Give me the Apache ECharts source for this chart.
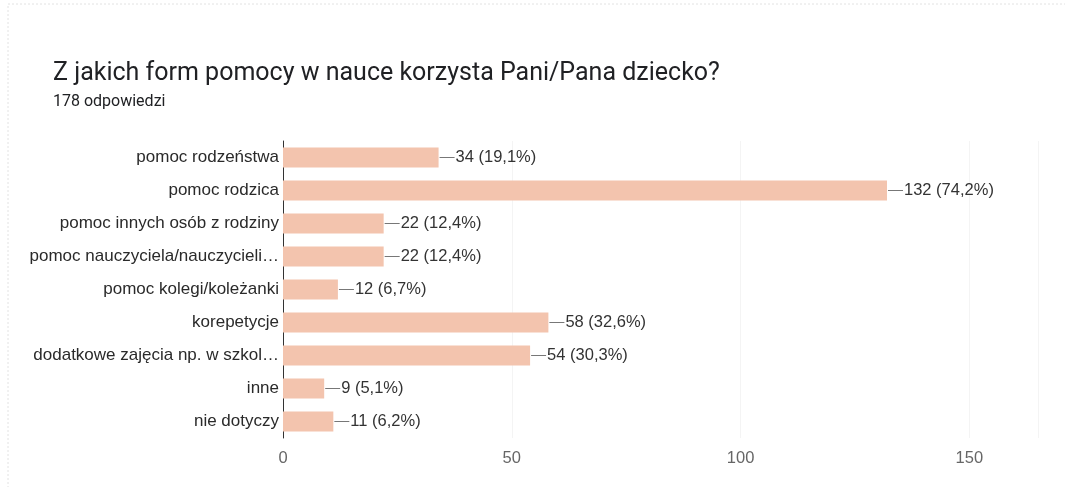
<!DOCTYPE html>
<html>
<head>
<meta charset="utf-8">
<script src="https://cdn.jsdelivr.net/npm/echarts@6/dist/echarts.min.js"></script>
<style>
  html, body { margin: 0; padding: 0; background: #fff; }
  #chart { width: 1065px; height: 487px; }
</style>
</head>
<body>
<div id="chart"></div>
<script>
// data
const categories = [
  'pomoc rodzeństwa',
  'pomoc rodzica',
  'pomoc innych osób z rodziny',
  'pomoc nauczyciela/nauczycieli…',
  'pomoc kolegi/koleżanki',
  'korepetycje',
  'dodatkowe zajęcia np. w szkol…',
  'inne',
  'nie dotyczy'
]
const counts = [34, 132, 22, 22, 12, 58, 54, 9, 11]
const percents = ['19,1%', '74,2%', '12,4%', '12,4%', '6,7%', '32,6%', '30,3%', '5,1%', '6,2%']
const xTicks = [0, 50, 100, 150]

const chart = echarts.init(document.getElementById('chart'))

const option = {
  backgroundColor: '#fff',
  animation: false,
  title: {
    text: 'Z jakich form pomocy w nauce korzysta Pani/Pana dziecko?',
    subtext: '178 odpowiedzi',
    left: 48,
    top: 56,
    itemGap: 8,
    textStyle: { fontFamily: 'Roboto', fontSize: 25, fontWeight: 'normal', color: '#202124' },
    subtextStyle: { fontFamily: 'Roboto', fontSize: 16, color: '#202124' }
  },
  graphic: [
    {
      type: 'rect',
      shape: { x: 8, y: 4, width: 1100, height: 520 },
      style: { fill: 'none', stroke: '#e2e2e2', lineWidth: 1, lineDash: [2, 2] },
      silent: true
    }
  ],
  grid: {
    left: 283,
    right: 27,
    top: 141,
    bottom: 49
  },
  xAxis: {
    type: 'value',
    min: 0,
    max: 165,
    interval: 50,
    axisLine: { show: false },
    axisTick: { show: false },
    splitLine: { show: true, lineStyle: { color: '#f4f4f4' } },
    axisLabel: {
      margin: 12,
      showMaxLabel: false,
      fontFamily: 'Liberation Sans',
      fontSize: 16.5,
      color: '#666',
      formatter: v => (xTicks.indexOf(v) >= 0 ? String(v) : '')
    }
  },
  yAxis: {
    type: 'category',
    inverse: true,
    data: categories,
    axisLine: { show: true, lineStyle: { color: '#333', width: 1 } },
    axisTick: { show: false },
    axisLabel: {
      margin: 4,
      fontFamily: 'Liberation Sans',
      fontSize: 17,
      color: '#2a2a2a'
    }
  },
  series: [
    {
      type: 'bar',
      data: counts,
      barWidth: 20,
      itemStyle: { color: '#f3c4ae' },
      label: {
        show: true,
        position: 'right',
        distance: 1,
        formatter: p => '{l|}{t|' + p.value + ' (' + percents[p.dataIndex] + ')}',
        rich: {
          l: { width: 15, height: 1, backgroundColor: '#777' },
          t: { fontFamily: 'Liberation Sans', fontSize: 16.5, color: '#333', padding: [0, 0, 0, 1] }
        }
      }
    }
  ]
}

chart.setOption(option)
</script>
</body>
</html>
